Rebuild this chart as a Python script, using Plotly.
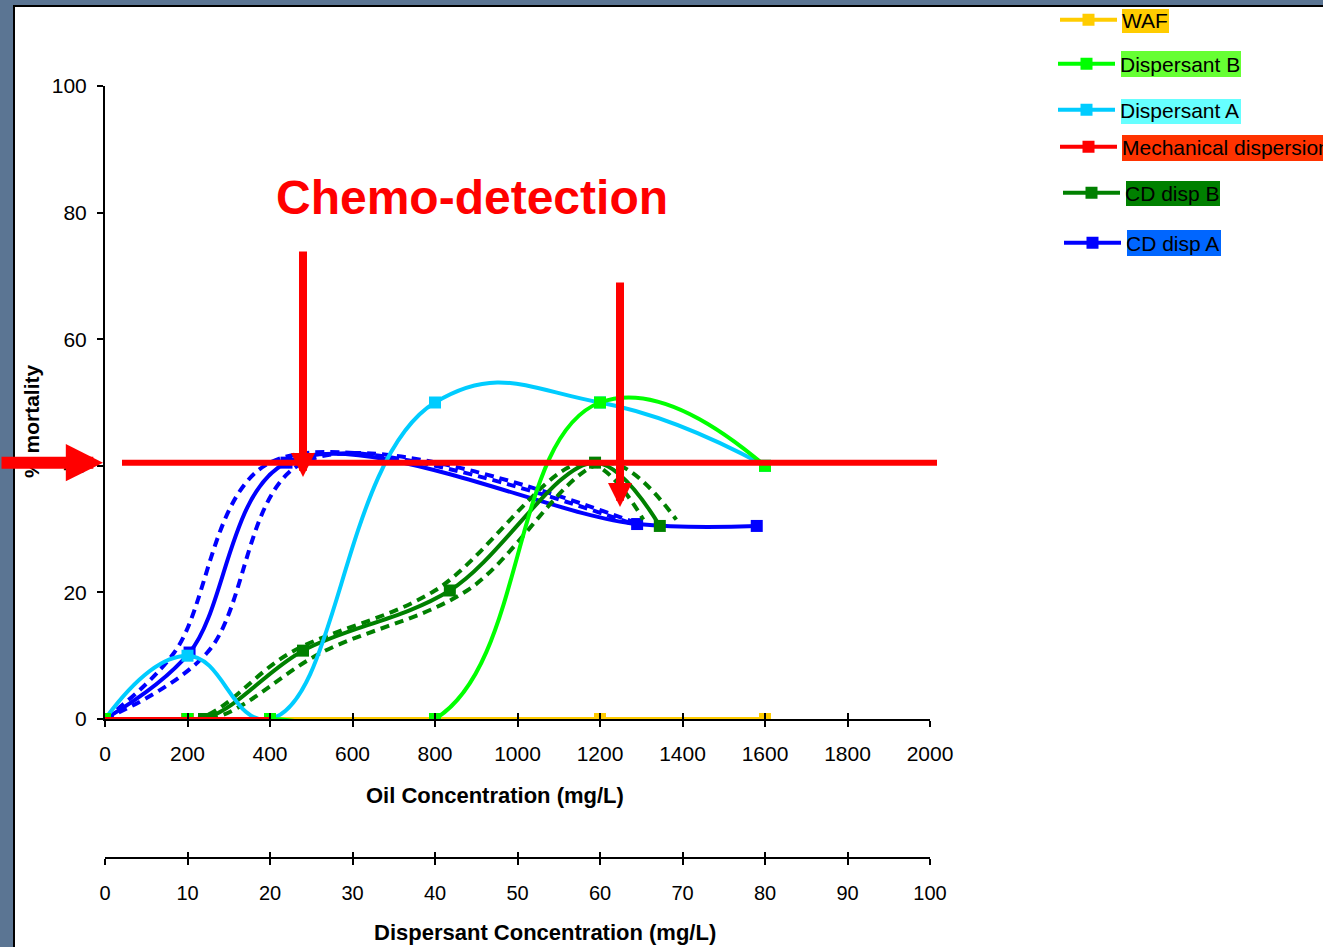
import plotly.graph_objects as go

# ---------------- data ----------------
oil_x = [0, 200, 400, 800, 1200, 1600]
waf_y = [0, 0, 0, 0, 0, 0]
disp_b_y = [0, 0, 0, 0, 50, 40]
disp_a_y = [0, 10, 0, 50, 50, 40]
mech_x = [0, 200, 400]
mech_y = [0, 0, 0]

cd_a_x = [0, 205, 440, 1290, 1580]
cd_a_y = [0, 10.5, 40.5, 30.8, 30.5]
cd_a_left_x = [0, 168, 400, 1280]
cd_a_right_x = [0, 248, 480, 1295]
cd_a_ci_y = [0, 10.5, 40.5, 30.8]

cd_b_x = [0, 240, 480, 836, 1188, 1345]
cd_b_y = [0, 0, 10.8, 20.3, 40.5, 30.5]
cd_b_left_x = [0, 225, 450, 800, 1165, 1305]
cd_b_right_x = [0, 258, 525, 878, 1215, 1385]
cd_b_ci_y = [0, 0, 10.5, 20.3, 40.5, 31.5]

oil_ticks = list(range(0, 2001, 200))
disp_ticks = list(range(0, 101, 10))
mort_ticks = list(range(0, 101, 20))
threshold = 40.5

# ---------------- geometry helpers (pixels -> paper) ----------------
W, H = 1323, 947
PL, PR, PT, PB = 105, 930, 86, 858
Y0PX = 719
ydom0 = (PB - Y0PX) / (PB - PT)


def px_x(p):
    return (p - PL) / (PR - PL)


def px_y(p):
    return (PB - p) / (PB - PT)


def val_y(v):
    return ydom0 + v / 100 * (1 - ydom0)


FONT = "Liberation Sans, Arial, sans-serif"
C_WAF = "#FFCC00"
C_DB = "#00FF00"
C_DA = "#00CCFF"
C_MECH = "#FF0000"
C_CDB = "#008000"
C_CDA = "#0000FF"

fig = go.Figure()

LW = 4
MS = 12
spline = dict(shape="spline", smoothing=1)
spline_hi = dict(shape="spline", smoothing=1.3)

# CD disp A confidence (dashed)
for xs in (cd_a_left_x, cd_a_right_x):
    fig.add_trace(go.Scatter(x=xs, y=cd_a_ci_y, mode="lines", showlegend=False, hoverinfo="skip",
                             line=dict(color=C_CDA, width=LW, dash="9px,6px", **spline)))
fig.add_trace(go.Scatter(x=cd_a_x, y=cd_a_y, mode="lines+markers", name="CD disp A", legend="legend6",
                         line=dict(color=C_CDA, width=LW, **spline),
                         marker=dict(symbol="square", size=MS, color=C_CDA)))
# CD disp B confidence (dashed)
for xs in (cd_b_left_x, cd_b_right_x):
    fig.add_trace(go.Scatter(x=xs, y=cd_b_ci_y, mode="lines", showlegend=False, hoverinfo="skip",
                             line=dict(color=C_CDB, width=LW, dash="9px,6px", **spline)))
fig.add_trace(go.Scatter(x=cd_b_x, y=cd_b_y, mode="lines+markers", name="CD disp B", legend="legend5",
                         line=dict(color=C_CDB, width=LW, **spline),
                         marker=dict(symbol="square", size=MS, color=C_CDB)))

fig.add_trace(go.Scatter(x=oil_x, y=waf_y, mode="lines+markers", name="WAF", legend="legend",
                         line=dict(color=C_WAF, width=LW, **spline),
                         marker=dict(symbol="square", size=MS, color=C_WAF)))
fig.add_trace(go.Scatter(x=oil_x, y=disp_a_y, mode="lines+markers", name="Dispersant A", legend="legend3",
                         line=dict(color=C_DA, width=LW, **spline_hi),
                         marker=dict(symbol="square", size=MS, color=C_DA)))
fig.add_trace(go.Scatter(x=mech_x, y=mech_y, mode="lines+markers", name="Mechanical dispersion", legend="legend4",
                         line=dict(color=C_MECH, width=LW),
                         marker=dict(symbol="square", size=MS, color=C_MECH)))
fig.add_trace(go.Scatter(x=oil_x, y=disp_b_y, mode="lines+markers", name="Dispersant B", legend="legend2",
                         line=dict(color=C_DB, width=LW, **spline_hi),
                         marker=dict(symbol="square", size=MS, color=C_DB)))
# mechanical line drawn again on top (as in the original)
fig.add_trace(go.Scatter(x=mech_x, y=mech_y, mode="lines", showlegend=False, hoverinfo="skip",
                         line=dict(color=C_MECH, width=LW)))

# dummy traces so the extra axes render
fig.add_trace(go.Scatter(x=[None], y=[None], xaxis="x2", yaxis="y", showlegend=False, hoverinfo="skip"))
fig.add_trace(go.Scatter(x=[None], y=[None], xaxis="x3", yaxis="y", showlegend=False, hoverinfo="skip"))
fig.add_trace(go.Scatter(x=[None], y=[None], xaxis="x4", yaxis="y", showlegend=False, hoverinfo="skip"))

axis_common = dict(showgrid=False, zeroline=False, showline=True, linecolor="black", linewidth=2,
                   ticks="outside", ticklen=6, tickwidth=2, tickcolor="black", automargin=False,
                   tickfont=dict(family=FONT, size=21, color="black"))

fig.update_layout(
    width=W, height=H,
    template="none",
    paper_bgcolor="white", plot_bgcolor="rgba(0,0,0,0)",
    margin=dict(l=PL, r=W - PR, t=PT, b=H - PB, pad=0, autoexpand=False),
    font=dict(family=FONT, color="black"),
    xaxis=dict(axis_common, range=[0, 2000], tickvals=oil_ticks, anchor="y", domain=[0, 1],
               ticklabelstandoff=9),
    xaxis3=dict(showgrid=False, zeroline=False, showline=False, range=[0, 2000], tickvals=oil_ticks,
                ticks="inside", ticklen=6, tickwidth=2, tickcolor="black", showticklabels=False,
                anchor="y", overlaying="x"),
    xaxis2=dict(axis_common, range=[0, 100], tickvals=disp_ticks, anchor="free", position=0,
                overlaying="x", side="bottom", ticklabelstandoff=11,
                tickfont=dict(family=FONT, size=20, color="black")),
    xaxis4=dict(showgrid=False, zeroline=False, showline=False, range=[0, 100], tickvals=disp_ticks,
                ticks="inside", ticklen=6, tickwidth=2, tickcolor="black", showticklabels=False,
                anchor="free", position=0, overlaying="x"),
    yaxis=dict(axis_common, range=[0, 100], tickvals=mort_ticks, domain=[ydom0, 1], anchor="x",
               ticklabelstandoff=6),
)

# legends, one per series, placed like the original
leg_rows = [
    ("legend", 1055, 20),
    ("legend2", 1053, 64),
    ("legend3", 1053, 110),
    ("legend4", 1055, 147),
    ("legend5", 1058, 193),
    ("legend6", 1059, 243),
]
for key, lx, ly in leg_rows:
    fig.update_layout({key: dict(x=px_x(lx), y=px_y(ly), xanchor="left", yanchor="middle",
                                 bgcolor="rgba(0,0,0,0)", borderwidth=0, itemwidth=57,
                                 font=dict(family=FONT, size=21, color="black"))})

shapes = []
# slide frame
slate = "#5B7593"
shapes.append(dict(type="rect", xref="paper", yref="paper", x0=px_x(0), x1=px_x(W + 5), y0=px_y(0), y1=px_y(6),
                   fillcolor=slate, line=dict(width=0), layer="below"))
shapes.append(dict(type="rect", xref="paper", yref="paper", x0=px_x(0), x1=px_x(13), y0=px_y(0), y1=px_y(H + 5),
                   fillcolor=slate, line=dict(width=0), layer="below"))
shapes.append(dict(type="line", xref="paper", yref="paper", x0=px_x(13), x1=px_x(W + 5), y0=px_y(6), y1=px_y(6),
                   line=dict(color="black", width=2), layer="below"))
shapes.append(dict(type="line", xref="paper", yref="paper", x0=px_x(14), x1=px_x(14), y0=px_y(6), y1=px_y(H + 5),
                   line=dict(color="black", width=2), layer="below"))
# legend label boxes
boxes = [
    (1122, 9, 1169, 33, "#FFCC00"),
    (1121, 51, 1241, 77, "#66FF33"),
    (1121, 99, 1241, 124, "#66FFFF"),
    (1122, 135, 1330, 161, "#FF3300"),
    (1126, 181, 1220, 206, "#008000"),
    (1127, 230, 1221, 256, "#0066FF"),
]
for x0, y0, x1, y1, c in boxes:
    shapes.append(dict(type="rect", xref="paper", yref="paper", x0=px_x(x0), x1=px_x(x1), y0=px_y(y1), y1=px_y(y0),
                       fillcolor=c, line=dict(width=0), layer="below"))
# threshold line
ty = val_y(threshold)
shapes.append(dict(type="line", xref="paper", yref="paper", x0=px_x(122), x1=px_x(937), y0=ty, y1=ty,
                   line=dict(color="red", width=6), layer="above"))
fig.update_layout(shapes=shapes)

ann = []
ann.append(dict(text="<b>Chemo-detection</b>", xref="paper", yref="paper", x=px_x(472), y=px_y(198),
                xanchor="center", yanchor="middle", showarrow=False,
                font=dict(family=FONT, size=48, color="#FF0000")))
ann.append(dict(text="<b>% mortality</b>", xref="paper", yref="paper", x=px_x(31), y=px_y(421),
                xanchor="center", yanchor="middle", showarrow=False, textangle=-90,
                font=dict(family=FONT, size=21, color="black")))
ann.append(dict(text="<b>Oil Concentration (mg/L)</b>", xref="paper", yref="paper", x=px_x(495), y=px_y(795),
                xanchor="center", yanchor="middle", showarrow=False,
                font=dict(family=FONT, size=22, color="black")))
ann.append(dict(text="<b>Dispersant Concentration (mg/L)</b>", xref="paper", yref="paper", x=px_x(545),
                y=px_y(933), xanchor="center", yanchor="middle", showarrow=False,
                font=dict(family=FONT, size=22, color="black")))
# red arrows
ann.append(dict(text="", xref="paper", yref="paper", x=px_x(103), y=ty, ax=-110, ay=0, showarrow=True,
                arrowhead=2, arrowsize=0.62, arrowwidth=12, arrowcolor="#FF0000", standoff=0))
ann.append(dict(text="", xref="paper", yref="paper", x=px_x(303), y=px_y(477), ax=0, ay=-227, showarrow=True,
                arrowhead=2, arrowsize=0.6, arrowwidth=8, arrowcolor="#FF0000", standoff=0))
ann.append(dict(text="", xref="paper", yref="paper", x=px_x(620), y=px_y(507), ax=0, ay=-226, showarrow=True,
                arrowhead=2, arrowsize=0.6, arrowwidth=8, arrowcolor="#FF0000", standoff=0))
fig.update_layout(annotations=ann)

post = ("document.body.style.margin='0';document.body.style.overflow='hidden';"
        "var g=document.getElementById('{plot_id}');g.style.position='fixed';"
        "g.style.left='0px';g.style.top='0px';")
fig.write_html("out.html", post_script=post, config={"displayModeBar": False})
